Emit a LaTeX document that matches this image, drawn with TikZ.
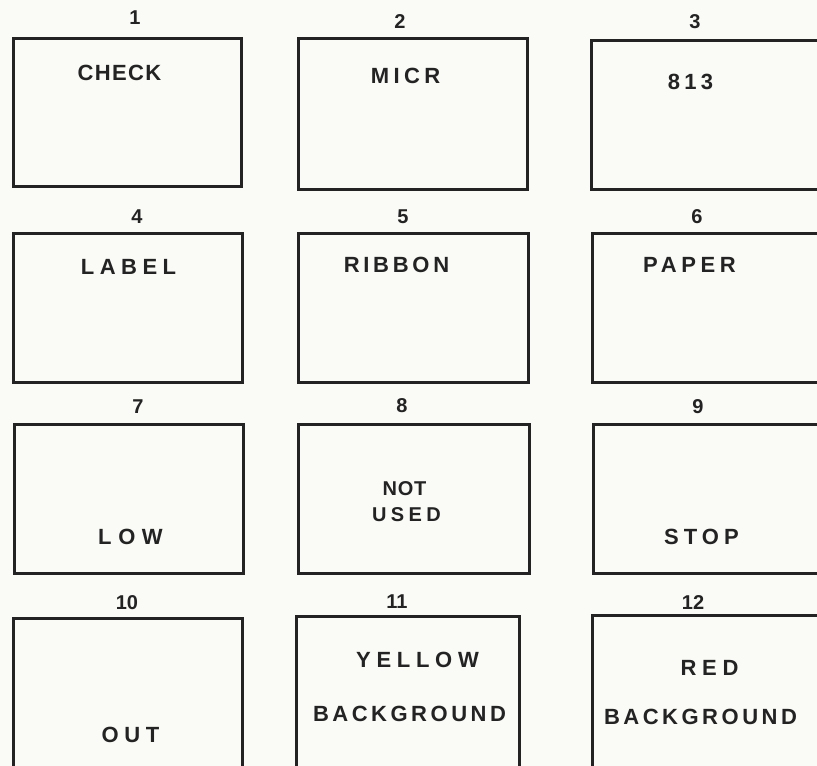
\documentclass[tikz,border=0pt]{standalone}
\usepackage{fontspec}
\setmainfont{Liberation Sans}
\newfontfamily\lettering{Liberation Sans}
\definecolor{ink}{RGB}{35,35,35}
\definecolor{paper}{RGB}{250,250,246}
\begin{document}
\begin{tikzpicture}[x=1pt,y=-1pt,
  panel/.style={draw=ink,line width=3pt,minimum width=229pt,minimum height=149pt,inner sep=0pt,anchor=north west},
  num/.style={text=ink,font=\bfseries\fontsize{20}{22}\selectfont},
  word/.style={text=ink,inner sep=0pt,xshift=-2.5pt,font=\lettering\bfseries\fontsize{22}{30}\selectfont\addfontfeature{LetterSpace=#1}},
  word/.default=6]
\fill[paper] (0,0) rectangle (817,766);
\useasboundingbox (0,0) rectangle (817,766);
\clip (0,0) rectangle (817,766);
% row 1
\node[panel,minimum width=228pt,minimum height=148pt] (b1) at (12,37) {};
\node[panel,minimum height=151pt] (b2) at (297,37) {};
\node[panel] (b3) at (590,39) {};
% row 2
\node[panel] (b4) at (12,232) {};
\node[panel,minimum width=230pt] (b5) at (297,232) {};
\node[panel] (b6) at (591,232) {};
% row 3
\node[panel] (b7) at (13,423) {};
\node[panel,minimum width=231pt] (b8) at (297,423) {};
\node[panel] (b9) at (592,423) {};
% row 4
\node[panel,minimum height=160pt] (b10) at (12,617) {};
\node[panel,minimum height=160pt,minimum width=223pt] (b11) at (295,615) {};
\node[panel,minimum height=160pt] (b12) at (591,614) {};
% numbers
\node[num] (n1) at (135,18) {1};
\node[num] (n2) at (400,22) {2};
\node[num] (n3) at (695,22) {3};
\node[num] (n4) at (137,217) {4};
\node[num] (n5) at (403,217) {5};
\node[num] (n6) at (697,217) {6};
\node[num] (n7) at (138,407) {7};
\node[num] (n8) at (402,406) {8};
\node[num] (n9) at (698,407) {9};
\node[num] (n10) at (127,603) {10};
\node[num] (n11) at (397,602) {11};
\node[num] (n12) at (693,603) {12};
% words
\node[word] (t1) at (122,73) {CHECK};
\node[word=20] (t2) at (408,76) {MICR};
\node[word=20] (t3) at (693,82) {813};
\node[word=25] (t4) at (131,267) {LABEL};
\node[word=17] (t5) at (399,265) {RIBBON};
\node[word=21] (t6) at (692,265) {PAPER};
\node[word=4,font=\lettering\bfseries\fontsize{20}{22}\selectfont\addfontfeature{LetterSpace=4}] (t8a) at (407,489) {NOT};
\node[word=22,font=\lettering\bfseries\fontsize{20}{22}\selectfont\addfontfeature{LetterSpace=22}] (t8b) at (409,515) {USED};
\node[word=30] (t7) at (133,537) {LOW};
\node[word=23] (t9) at (704,537) {STOP};
\node[word=26] (t11a) at (420,660) {YELLOW};
\node[word=16] (t11b) at (412,714) {BACKGROUND};
\node[word=26] (t12a) at (712,668) {RED};
\node[word=16] (t12b) at (703,717) {BACKGROUND};
\node[word=26] (t10) at (133,735) {OUT};
\end{tikzpicture}
\end{document}
